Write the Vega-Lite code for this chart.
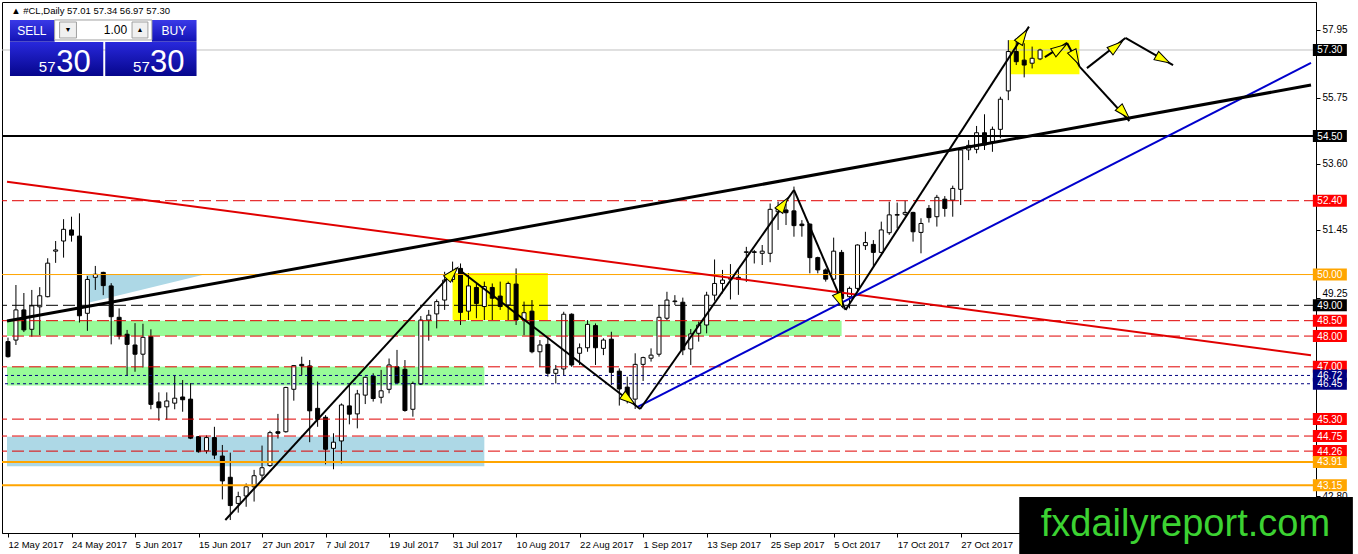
{
"$schema":"https://vega.github.io/schema/vega-lite/v6.json",
"width":1314,"height":531,"autosize":"none",
"padding":{"left":2,"top":2,"right":42,"bottom":21},
"background":"white",
"config":{"view":{"stroke":"black","strokeWidth":1},"font":"Liberation Sans"},
"datasets":{
"bars":[
{"i":0,"o":47.82,"h":47.95,"l":47.30,"c":47.33},
{"i":1,"o":47.87,"h":49.66,"l":47.71,"c":48.85},
{"i":2,"o":48.85,"h":49.40,"l":48.13,"c":48.20},
{"i":3,"o":48.22,"h":49.50,"l":47.98,"c":48.98},
{"i":4,"o":48.95,"h":49.59,"l":48.03,"c":49.31},
{"i":5,"o":49.28,"h":50.53,"l":49.26,"c":50.37},
{"i":6,"o":50.76,"h":51.09,"l":50.38,"c":50.80},
{"i":7,"o":51.09,"h":51.80,"l":50.55,"c":51.47},
{"i":8,"o":51.45,"h":51.88,"l":51.07,"c":51.28},
{"i":9,"o":51.25,"h":51.99,"l":48.44,"c":48.66},
{"i":10,"o":48.74,"h":49.95,"l":48.17,"c":49.84},
{"i":11,"o":49.91,"h":50.28,"l":49.50,"c":50.01},
{"i":12,"o":50.07,"h":50.09,"l":49.33,"c":49.64},
{"i":13,"o":49.63,"h":49.72,"l":47.73,"c":48.63},
{"i":14,"o":48.61,"h":48.90,"l":47.89,"c":48.00},
{"i":15,"o":48.06,"h":48.20,"l":46.73,"c":47.73},
{"i":16,"o":47.71,"h":48.42,"l":46.84,"c":47.41},
{"i":17,"o":47.41,"h":48.40,"l":46.98,"c":47.96},
{"i":18,"o":47.98,"h":48.22,"l":45.62,"c":45.78},
{"i":19,"o":45.86,"h":46.17,"l":45.25,"c":45.67},
{"i":20,"o":45.70,"h":46.17,"l":45.28,"c":45.89},
{"i":21,"o":45.82,"h":46.71,"l":45.62,"c":45.98},
{"i":22,"o":46.02,"h":46.57,"l":45.54,"c":45.93},
{"i":23,"o":45.95,"h":46.47,"l":44.65,"c":44.68},
{"i":24,"o":44.73,"h":44.75,"l":44.21,"c":44.24},
{"i":25,"o":44.27,"h":44.77,"l":44.18,"c":44.70},
{"i":26,"o":44.70,"h":45.05,"l":44.00,"c":44.13},
{"i":27,"o":44.10,"h":44.46,"l":42.69,"c":43.29},
{"i":28,"o":43.41,"h":44.21,"l":42.02,"c":42.49},
{"i":29,"o":42.56,"h":42.94,"l":42.26,"c":42.78},
{"i":30,"o":42.80,"h":43.21,"l":42.45,"c":43.10},
{"i":31,"o":43.10,"h":43.65,"l":42.62,"c":43.46},
{"i":32,"o":43.48,"h":44.44,"l":43.32,"c":43.72},
{"i":33,"o":43.79,"h":44.92,"l":43.75,"c":44.86},
{"i":34,"o":44.89,"h":45.47,"l":44.67,"c":44.84},
{"i":35,"o":44.89,"h":46.35,"l":44.86,"c":46.33},
{"i":36,"o":46.27,"h":47.06,"l":45.90,"c":47.04},
{"i":37,"o":47.08,"h":47.33,"l":46.73,"c":47.03},
{"i":38,"o":47.03,"h":47.22,"l":44.55,"c":45.57},
{"i":39,"o":45.65,"h":46.52,"l":45.05,"c":45.29},
{"i":40,"o":45.36,"h":45.43,"l":43.83,"c":44.32},
{"i":41,"o":44.35,"h":44.84,"l":43.67,"c":44.55},
{"i":42,"o":44.59,"h":45.81,"l":43.86,"c":45.76},
{"i":43,"o":45.73,"h":46.41,"l":45.13,"c":45.46},
{"i":44,"o":45.47,"h":46.25,"l":45.00,"c":46.12},
{"i":45,"o":46.08,"h":46.68,"l":45.79,"c":46.66},
{"i":46,"o":46.70,"h":46.79,"l":45.87,"c":45.97},
{"i":47,"o":46.01,"h":46.90,"l":45.81,"c":46.22},
{"i":48,"o":46.27,"h":47.27,"l":46.14,"c":47.06},
{"i":49,"o":47.00,"h":47.55,"l":46.46,"c":46.48},
{"i":50,"o":46.92,"h":47.22,"l":45.54,"c":45.58},
{"i":51,"o":45.62,"h":46.52,"l":45.38,"c":46.46},
{"i":52,"o":46.44,"h":48.65,"l":46.41,"c":48.52},
{"i":53,"o":48.52,"h":48.85,"l":47.85,"c":48.68},
{"i":54,"o":48.72,"h":49.19,"l":48.25,"c":49.12},
{"i":55,"o":49.17,"h":50.09,"l":48.85,"c":49.82},
{"i":56,"o":49.84,"h":50.42,"l":49.75,"c":50.09},
{"i":57,"o":50.20,"h":50.36,"l":48.36,"c":48.77},
{"i":58,"o":48.81,"h":50.04,"l":48.52,"c":49.63},
{"i":59,"o":49.58,"h":49.71,"l":48.58,"c":49.06},
{"i":60,"o":48.96,"h":49.77,"l":48.52,"c":49.61},
{"i":61,"o":49.58,"h":49.71,"l":48.52,"c":49.23},
{"i":62,"o":49.30,"h":49.77,"l":48.85,"c":48.96},
{"i":63,"o":49.01,"h":49.77,"l":48.52,"c":49.71},
{"i":64,"o":49.69,"h":50.20,"l":48.36,"c":48.52},
{"i":65,"o":48.52,"h":49.12,"l":48.03,"c":48.76},
{"i":66,"o":48.81,"h":49.17,"l":47.44,"c":47.49},
{"i":67,"o":47.49,"h":47.87,"l":47.00,"c":47.71},
{"i":68,"o":47.73,"h":47.93,"l":46.68,"c":46.79},
{"i":69,"o":46.79,"h":47.06,"l":46.46,"c":46.92},
{"i":70,"o":46.93,"h":48.79,"l":46.73,"c":48.71},
{"i":71,"o":48.71,"h":48.74,"l":47.00,"c":47.06},
{"i":72,"o":47.44,"h":47.76,"l":47.06,"c":47.62},
{"i":73,"o":47.62,"h":48.52,"l":47.49,"c":48.38},
{"i":74,"o":48.34,"h":48.41,"l":47.06,"c":47.62},
{"i":75,"o":47.60,"h":47.93,"l":47.38,"c":47.87},
{"i":76,"o":47.90,"h":48.14,"l":46.41,"c":46.82},
{"i":77,"o":46.86,"h":46.95,"l":45.74,"c":46.28},
{"i":78,"o":46.34,"h":46.68,"l":45.81,"c":45.99},
{"i":79,"o":45.95,"h":47.44,"l":45.63,"c":47.08},
{"i":80,"o":47.08,"h":47.33,"l":46.54,"c":47.30},
{"i":81,"o":47.28,"h":47.60,"l":47.17,"c":47.38},
{"i":82,"o":47.41,"h":49.01,"l":47.33,"c":48.61},
{"i":83,"o":48.58,"h":49.44,"l":48.52,"c":49.17},
{"i":84,"o":49.12,"h":49.33,"l":49.01,"c":49.14},
{"i":85,"o":49.10,"h":49.25,"l":47.38,"c":47.55},
{"i":86,"o":47.58,"h":48.23,"l":47.06,"c":48.07},
{"i":87,"o":48.09,"h":48.47,"l":47.82,"c":48.36},
{"i":88,"o":48.36,"h":49.44,"l":48.09,"c":49.33},
{"i":89,"o":49.33,"h":50.49,"l":49.15,"c":49.71},
{"i":90,"o":49.71,"h":50.15,"l":49.39,"c":49.82},
{"i":91,"o":49.85,"h":50.34,"l":49.19,"c":49.88},
{"i":92,"o":49.91,"h":50.20,"l":49.34,"c":49.84},
{"i":93,"o":50.72,"h":50.90,"l":49.76,"c":50.74},
{"i":94,"o":50.74,"h":50.80,"l":50.36,"c":50.72},
{"i":95,"o":50.69,"h":50.96,"l":50.31,"c":50.76},
{"i":96,"o":50.69,"h":52.31,"l":50.40,"c":52.12},
{"i":97,"o":52.04,"h":52.37,"l":51.45,"c":52.12},
{"i":98,"o":52.10,"h":52.31,"l":51.61,"c":52.01},
{"i":99,"o":52.07,"h":52.86,"l":51.23,"c":51.59},
{"i":100,"o":51.64,"h":51.77,"l":51.23,"c":51.59},
{"i":101,"o":51.64,"h":51.66,"l":50.04,"c":50.55},
{"i":102,"o":50.55,"h":50.58,"l":50.04,"c":50.15},
{"i":103,"o":50.15,"h":50.20,"l":49.77,"c":49.85},
{"i":104,"o":49.85,"h":51.20,"l":49.82,"c":50.76},
{"i":105,"o":50.72,"h":50.80,"l":48.95,"c":49.22},
{"i":106,"o":49.28,"h":49.61,"l":48.90,"c":49.55},
{"i":107,"o":49.55,"h":50.98,"l":49.44,"c":50.96},
{"i":108,"o":50.94,"h":51.39,"l":50.80,"c":51.04},
{"i":109,"o":50.98,"h":51.12,"l":50.26,"c":50.72},
{"i":110,"o":50.72,"h":51.72,"l":50.69,"c":51.45},
{"i":111,"o":51.36,"h":52.37,"l":51.29,"c":51.94},
{"i":112,"o":51.93,"h":52.34,"l":51.50,"c":51.95},
{"i":113,"o":51.96,"h":52.40,"l":51.90,"c":52.02},
{"i":114,"o":52.02,"h":52.04,"l":51.07,"c":51.39},
{"i":115,"o":51.37,"h":51.83,"l":50.69,"c":51.66},
{"i":116,"o":52.15,"h":52.26,"l":51.69,"c":51.85},
{"i":117,"o":51.88,"h":52.59,"l":51.56,"c":52.51},
{"i":118,"o":52.45,"h":52.55,"l":51.88,"c":52.15},
{"i":119,"o":52.42,"h":52.89,"l":51.88,"c":52.80},
{"i":120,"o":52.77,"h":54.10,"l":52.26,"c":54.05},
{"i":121,"o":54.05,"h":54.37,"l":53.72,"c":54.20},
{"i":122,"o":54.07,"h":54.83,"l":53.94,"c":54.61},
{"i":123,"o":54.61,"h":55.21,"l":54.05,"c":54.21},
{"i":124,"o":54.32,"h":54.81,"l":53.99,"c":54.72},
{"i":125,"o":54.72,"h":55.78,"l":54.43,"c":55.70},
{"i":126,"o":55.97,"h":57.62,"l":55.67,"c":57.25},
{"i":127,"o":57.25,"h":57.68,"l":56.81,"c":56.92},
{"i":128,"o":56.97,"h":57.52,"l":56.41,"c":56.81},
{"i":129,"o":56.87,"h":57.41,"l":56.70,"c":57.03},
{"i":130,"o":57.01,"h":57.34,"l":56.97,"c":57.30}
],
"levels":[
{"p":57.30,"line":"gray","tag":"black"},
{"p":54.50,"line":"solid","tag":"black"},
{"p":52.40,"line":"red","tag":"red"},
{"p":50.00,"line":"orange","tag":"orange"},
{"p":49.00,"line":"dash","tag":"black"},
{"p":48.50,"line":"red","tag":"red"},
{"p":48.00,"line":"red","tag":"red"},
{"p":47.00,"line":"red","tag":"red"},
{"p":46.72,"line":"navy","tag":"navy"},
{"p":46.45,"line":"navy","tag":"navy"},
{"p":45.30,"line":"red","tag":"red"},
{"p":44.75,"line":"red","tag":"red"},
{"p":44.26,"line":"red","tag":"red"},
{"p":43.91,"line":"orange2","tag":"orange"},
{"p":43.15,"line":"orange2","tag":"orange"}
],
"zones":[
{"k":"green","i0":-0.125,"i1":105,"p0":48.00,"p1":48.50},
{"k":"green","i0":-0.125,"i1":60,"p0":46.39,"p1":47.00},
{"k":"blue","i0":-0.125,"i1":60,"p0":43.77,"p1":44.73},
{"k":"yellow","i0":56,"i1":68,"p0":48.52,"p1":50.05},
{"k":"yellow","i0":126.1,"i1":134.96,"p0":56.51,"p1":57.625}
],
"tri":[{"i":9.875,"lo":49.07,"hi":50.02},{"i":25,"lo":50.02,"hi":50.02}],
"trend":[
{"t":"red","i":-0.125,"p":53.02},{"t":"red","i":164.125,"p":47.38},
{"t":"black","i":-0.125,"p":48.49},{"t":"black","i":164.125,"p":56.16},
{"t":"blue","i":79.25,"p":45.69},{"t":"blue","i":164.125,"p":56.88}
],
"waves":[
{"s":"a","i":27.375,"p":42.02},{"s":"a","i":56.5,"p":50.21},
{"s":"b","i":56.875,"p":50.15},{"s":"b","i":79.625,"p":45.63},
{"s":"c","i":79.625,"p":45.63},{"s":"c","i":99,"p":52.75},
{"s":"d","i":99,"p":52.75},{"s":"d","i":105.5,"p":48.85},
{"s":"e","i":105.5,"p":48.85},{"s":"e","i":128.6,"p":58.06},
{"s":"f","i":130.6,"p":57.07},{"s":"f","i":133.4,"p":57.53},
{"s":"g","i":133.4,"p":57.53},{"s":"g","i":135,"p":56.75},
{"s":"h","i":135.9,"p":56.71},{"s":"h","i":140.75,"p":57.69},
{"s":"j","i":140.75,"p":57.69},{"s":"j","i":146.75,"p":56.81},
{"s":"k","i":135,"p":56.75},{"s":"k","i":141.25,"p":54.99}
],
"tips":[
{"i":55.9,"p":50.02,"a":43},{"i":78.1,"p":45.95,"a":127},{"i":97.6,"p":52.26,"a":35},
{"i":104.75,"p":49.17,"a":157},{"i":127.75,"p":57.72,"a":33},{"i":132.4,"p":57.33,"a":57},
{"i":134.4,"p":57.07,"a":152},{"i":139.5,"p":57.40,"a":52},{"i":145.4,"p":57.01,"a":119},
{"i":140.5,"p":55.28,"a":137}
],
"one":[{}]
},
"layer":[
{"data":{"name":"zones"},"mark":{"type":"rect"},
 "encoding":{"x":{"field":"i0","type":"quantitative","scale":{"domain":[-0.125,164.125],"nice":false,"zero":false},
   "axis":{"values":[0,8,16,24,32,40,48,56,64,72,80,88,96,104,112,120],
     "labelExpr":"['12 May 2017','24 May 2017','5 Jun 2017','15 Jun 2017','27 Jun 2017','7 Jul 2017','19 Jul 2017','31 Jul 2017','10 Aug 2017','22 Aug 2017','1 Sep 2017','13 Sep 2017','25 Sep 2017','5 Oct 2017','17 Oct 2017','27 Oct 2017'][round(datum.value/8)]",
     "labelAlign":"left","labelDx":0,"labelFontSize":9.5,"labelColor":"black","tickColor":"black","tickSize":4,"labelPadding":2,
     "domainColor":"black","grid":false,"title":null,"labelOverlap":false,"labelBound":false,"labelFlush":false}},
  "x2":{"field":"i1"},
  "y":{"field":"p0","type":"quantitative","scale":{"domain":[41.598,58.86],"nice":false,"zero":false},
   "axis":{"orient":"right","values":[42.80,43.85,44.95,46.05,47.10,48.20,49.25,50.35,51.45,52.50,53.60,54.70,55.75,56.85,57.95],
     "labelExpr":"indexof([43.85,44.95,48.2,54.7,47.1,52.5], datum.value) >= 0 ? '' : format(datum.value, '.2f')",
     "labelFontSize":10,"labelColor":"black","tickColor":"black","tickSize":4,"labelPadding":2,
     "labelOffset":{"condition":{"test":"datum.value == 49.25","value":-4},"value":0},
     "domainColor":"black","grid":false,"title":null,"labelOverlap":false,"labelBound":false,"labelFlush":false}},
  "y2":{"field":"p1"},
  "fill":{"field":"k","type":"nominal","scale":{"domain":["green","blue","yellow"],"range":["#98FB98","#ADD8E6","#FFFF00"]},"legend":null}}},
{"data":{"name":"tri"},"mark":{"type":"area","color":"#ADD8E6","opacity":1},
 "encoding":{"x":{"field":"i","type":"quantitative"},"y":{"field":"lo","type":"quantitative"},"y2":{"field":"hi"}}},
{"data":{"name":"levels"},"transform":[{"filter":"datum.line == 'gray'"}],"mark":{"type":"rule","color":"#C0C0C0","strokeWidth":1},
 "encoding":{"y":{"field":"p","type":"quantitative"}}},
{"data":{"name":"bars"},"mark":{"type":"rule","color":"black","strokeWidth":1},
 "encoding":{"x":{"field":"i","type":"quantitative"},"y":{"field":"l","type":"quantitative"},"y2":{"field":"h"}}},
{"data":{"name":"bars"},"mark":{"type":"bar","width":4,"stroke":"black","strokeWidth":1},
 "encoding":{"x":{"field":"i","type":"quantitative"},"y":{"field":"o","type":"quantitative"},"y2":{"field":"c"},
  "fill":{"condition":{"test":"datum.c > datum.o","value":"white"},"value":"black"}}},
{"data":{"name":"levels"},"transform":[{"filter":"datum.line == 'red'"}],"mark":{"type":"rule","color":"#E00000","strokeWidth":1,"strokeDash":[12,5]},
 "encoding":{"y":{"field":"p","type":"quantitative"}}},
{"data":{"name":"levels"},"transform":[{"filter":"datum.line == 'dash'"}],"mark":{"type":"rule","color":"black","strokeWidth":1,"strokeDash":[12,5]},
 "encoding":{"y":{"field":"p","type":"quantitative"}}},
{"data":{"name":"levels"},"transform":[{"filter":"datum.line == 'navy'"}],"mark":{"type":"rule","color":"#000080","strokeWidth":1,"strokeDash":[3,3]},
 "encoding":{"y":{"field":"p","type":"quantitative"}}},
{"data":{"name":"levels"},"transform":[{"filter":"datum.line == 'orange'"}],"mark":{"type":"rule","color":"#FFA500","strokeWidth":1},
 "encoding":{"y":{"field":"p","type":"quantitative"}}},
{"data":{"name":"levels"},"transform":[{"filter":"datum.line == 'orange2'"}],"mark":{"type":"rule","color":"#FFA500","strokeWidth":2},
 "encoding":{"y":{"field":"p","type":"quantitative"}}},
{"data":{"name":"levels"},"transform":[{"filter":"datum.line == 'solid'"}],"mark":{"type":"rule","color":"black","strokeWidth":2},
 "encoding":{"y":{"field":"p","type":"quantitative"}}},
{"data":{"name":"trend"},"transform":[{"filter":"datum.t == 'red'"}],"mark":{"type":"line","color":"#E00000","strokeWidth":2},
 "encoding":{"x":{"field":"i","type":"quantitative"},"y":{"field":"p","type":"quantitative"}}},
{"data":{"name":"trend"},"transform":[{"filter":"datum.t == 'blue'"}],"mark":{"type":"line","color":"#0000CC","strokeWidth":2},
 "encoding":{"x":{"field":"i","type":"quantitative"},"y":{"field":"p","type":"quantitative"}}},
{"data":{"name":"trend"},"transform":[{"filter":"datum.t == 'black'"}],"mark":{"type":"line","color":"black","strokeWidth":3},
 "encoding":{"x":{"field":"i","type":"quantitative"},"y":{"field":"p","type":"quantitative"}}},
{"data":{"name":"waves"},"mark":{"type":"line","color":"black","strokeWidth":2},
 "encoding":{"x":{"field":"i","type":"quantitative"},"y":{"field":"p","type":"quantitative"},"detail":{"field":"s","type":"nominal"}}},
{"data":{"name":"tips"},"mark":{"type":"point","shape":"M0,-1L0.55,0.8L-0.55,0.8Z","filled":true,"fill":"#FFFF00","stroke":"black","strokeWidth":1,"opacity":1,"size":300},
 "encoding":{"x":{"field":"i","type":"quantitative"},"y":{"field":"p","type":"quantitative"},"angle":{"field":"a","type":"quantitative","scale":null}}},
{"data":{"name":"levels"},"mark":{"type":"tick","orient":"horizontal","size":34,"thickness":12,"opacity":1},
 "encoding":{"x":{"datum":166.5,"type":"quantitative"},"y":{"field":"p","type":"quantitative"},
  "color":{"field":"tag","type":"nominal","scale":{"domain":["red","black","orange","navy"],"range":["#FF0000","#000000","#FFA500","#000080"]},"legend":null}}},
{"data":{"name":"levels"},"mark":{"type":"text","color":"white","fontSize":10,"align":"center","baseline":"middle","dy":0.5},
 "encoding":{"x":{"datum":166.5,"type":"quantitative"},"y":{"field":"p","type":"quantitative"},"text":{"field":"p","type":"quantitative","format":".2f"}}},
{"data":{"name":"one"},"mark":{"type":"rect","color":"black"},
 "encoding":{"x":{"datum":127.375,"type":"quantitative"},"x2":{"datum":169.4},"y":{"datum":42.77,"type":"quantitative"},"y2":{"datum":40.9}}},
{"data":{"name":"one"},"mark":{"type":"text","color":"#3CD232","fontSize":38,"align":"center","baseline":"alphabetic"},
 "encoding":{"x":{"datum":148.3,"type":"quantitative"},"y":{"datum":41.5,"type":"quantitative"},"text":{"value":"fxdailyreport.com"}}},
{"data":{"name":"one"},"mark":{"type":"text","color":"black","fontSize":9.5,"align":"left","baseline":"alphabetic"},
 "encoding":{"x":{"datum":0.4,"type":"quantitative"},"y":{"datum":58.47,"type":"quantitative"},"text":{"value":"▲ #CL,Daily  57.01 57.34 56.97 57.30"}}},
{"data":{"name":"one"},"mark":{"type":"rect","color":{"gradient":"linear","x1":0,"y1":0,"x2":0,"y2":1,"stops":[{"offset":0,"color":"#3a3ae8"},{"offset":1,"color":"#1212b4"}]}},
 "encoding":{"x":{"datum":0.25,"type":"quantitative"},"x2":{"datum":5.875},"y":{"datum":58.275,"type":"quantitative"},"y2":{"datum":57.57}}},
{"data":{"name":"one"},"mark":{"type":"rect","color":{"gradient":"linear","x1":0,"y1":0,"x2":0,"y2":1,"stops":[{"offset":0,"color":"#3a3ae8"},{"offset":1,"color":"#1212b4"}]}},
 "encoding":{"x":{"datum":18.125,"type":"quantitative"},"x2":{"datum":23.75},"y":{"datum":58.275,"type":"quantitative"},"y2":{"datum":57.57}}},
{"data":{"name":"one"},"mark":{"type":"rect","fill":"white","stroke":"#A0A0A0","strokeWidth":1},
 "encoding":{"x":{"datum":5.875,"type":"quantitative"},"x2":{"datum":18.125},"y":{"datum":58.275,"type":"quantitative"},"y2":{"datum":57.625}}},
{"data":{"name":"one"},"mark":{"type":"rect","fill":"#F0F0F0","stroke":"#A0A0A0","strokeWidth":1},
 "encoding":{"x":{"datum":6.5,"type":"quantitative"},"x2":{"datum":8.625},"y":{"datum":58.21,"type":"quantitative"},"y2":{"datum":57.69}}},
{"data":{"name":"one"},"mark":{"type":"rect","fill":"#F0F0F0","stroke":"#A0A0A0","strokeWidth":1},
 "encoding":{"x":{"datum":15.625,"type":"quantitative"},"x2":{"datum":17.625},"y":{"datum":58.21,"type":"quantitative"},"y2":{"datum":57.69}}},
{"data":{"name":"one"},"mark":{"type":"rect","color":{"gradient":"linear","x1":0,"y1":0,"x2":0,"y2":1,"stops":[{"offset":0,"color":"#2828dc"},{"offset":1,"color":"#06068c"}]}},
 "encoding":{"x":{"datum":0.25,"type":"quantitative"},"x2":{"datum":12},"y":{"datum":57.56,"type":"quantitative"},"y2":{"datum":56.455}}},
{"data":{"name":"one"},"mark":{"type":"rect","color":{"gradient":"linear","x1":0,"y1":0,"x2":0,"y2":1,"stops":[{"offset":0,"color":"#2828dc"},{"offset":1,"color":"#06068c"}]}},
 "encoding":{"x":{"datum":12.25,"type":"quantitative"},"x2":{"datum":23.75},"y":{"datum":57.56,"type":"quantitative"},"y2":{"datum":56.455}}},
{"data":{"name":"one"},"mark":{"type":"text","color":"white","fontSize":12,"align":"center","baseline":"middle"},
 "encoding":{"x":{"datum":3.0,"type":"quantitative"},"y":{"datum":57.93,"type":"quantitative"},"text":{"value":"SELL"}}},
{"data":{"name":"one"},"mark":{"type":"text","color":"white","fontSize":12,"align":"center","baseline":"middle"},
 "encoding":{"x":{"datum":20.9,"type":"quantitative"},"y":{"datum":57.93,"type":"quantitative"},"text":{"value":"BUY"}}},
{"data":{"name":"one"},"mark":{"type":"text","color":"black","fontSize":12,"align":"right","baseline":"middle"},
 "encoding":{"x":{"datum":15.0,"type":"quantitative"},"y":{"datum":57.95,"type":"quantitative"},"text":{"value":"1.00"}}},
{"data":{"name":"one"},"mark":{"type":"text","color":"black","fontSize":7,"align":"center","baseline":"middle"},
 "encoding":{"x":{"datum":7.56,"type":"quantitative"},"y":{"datum":57.95,"type":"quantitative"},"text":{"value":"▼"}}},
{"data":{"name":"one"},"mark":{"type":"text","color":"black","fontSize":7,"align":"center","baseline":"middle"},
 "encoding":{"x":{"datum":16.63,"type":"quantitative"},"y":{"datum":57.95,"type":"quantitative"},"text":{"value":"▲"}}},
{"data":{"name":"one"},"mark":{"type":"text","color":"white","fontSize":15,"align":"center","baseline":"alphabetic"},
 "encoding":{"x":{"datum":4.94,"type":"quantitative"},"y":{"datum":56.585,"type":"quantitative"},"text":{"value":"57"}}},
{"data":{"name":"one"},"mark":{"type":"text","color":"white","fontSize":31,"align":"center","baseline":"alphabetic"},
 "encoding":{"x":{"datum":8.25,"type":"quantitative"},"y":{"datum":56.585,"type":"quantitative"},"text":{"value":"30"}}},
{"data":{"name":"one"},"mark":{"type":"text","color":"white","fontSize":15,"align":"center","baseline":"alphabetic"},
 "encoding":{"x":{"datum":16.81,"type":"quantitative"},"y":{"datum":56.585,"type":"quantitative"},"text":{"value":"57"}}},
{"data":{"name":"one"},"mark":{"type":"text","color":"white","fontSize":31,"align":"center","baseline":"alphabetic"},
 "encoding":{"x":{"datum":20.06,"type":"quantitative"},"y":{"datum":56.585,"type":"quantitative"},"text":{"value":"30"}}}
]
}
